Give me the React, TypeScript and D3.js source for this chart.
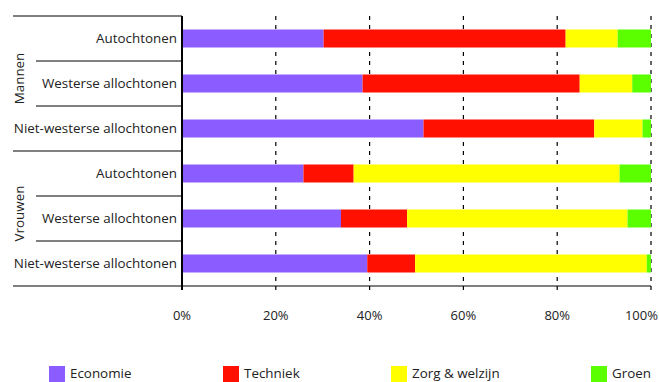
import React from "react";
import * as d3 from "d3";

const rowLabels = [
  "Autochtonen",
  "Westerse allochtonen",
  "Niet-westerse allochtonen",
  "Autochtonen",
  "Westerse allochtonen",
  "Niet-westerse allochtonen",
];
const groups = ["Mannen", "Vrouwen"];
const seriesNames = ["Economie", "Techniek", "Zorg & welzijn", "Groen"];
const economie = [30.2, 38.5, 51.5, 25.9, 33.9, 39.5];
const techniek = [51.6, 46.3, 36.4, 10.7, 14.1, 10.2];
const zorg = [11.1, 11.2, 10.3, 56.7, 47.0, 49.4];
const groen = [7.1, 4.0, 1.8, 6.7, 5.0, 0.9];
const ticks = [0, 20, 40, 60, 80, 100];
const colors = ["#8b5cff", "#ff1000", "#ffff00", "#5cff00"];

const W = 659;
const H = 382;
const x0 = 182;
const x1 = 651;
const top = 16;
const bottom = 286;
const FONT = "'Open Sans', sans-serif";

export default function App() {
  const x = d3.scaleLinear().domain([0, 100]).range([x0, x1]);
  const ids = rowLabels.map((_, i) => String(i));
  const y = d3.scaleBand().domain(ids).range([top, bottom]).paddingInner(0.6).paddingOuter(0.3);
  const band = d3.scaleBand().domain(ids).range([top, bottom]);
  const table = rowLabels.map((_, i) => ({
    id: String(i),
    Economie: economie[i],
    Techniek: techniek[i],
    "Zorg & welzijn": zorg[i],
    Groen: groen[i],
  }));
  const stack = d3.stack<any>().keys(seriesNames)(table);
  const legendX = [49, 223, 391, 591];

  return (
    <svg width={W} height={H} style={{ position: "absolute", left: 0, top: 0 }} fontFamily={FONT}>
      {ticks.slice(1).map((t) => (
        <line key={t} x1={x(t)} x2={x(t)} y1={top} y2={bottom + 4} stroke="#000" strokeWidth={1.2} strokeDasharray="4,5" />
      ))}
      {stack.map((s, si) =>
        s.map((d, i) => (
          <rect
            key={si + "-" + i}
            x={x(d[0])}
            width={x(d[1]) - x(d[0])}
            y={y(String(i))}
            height={y.bandwidth()}
            fill={colors[si]}
          />
        ))
      )}
      {ids.map((id, i) => {
        const yy = band(id)!;
        const full = i % 3 === 0;
        return <line key={"s" + i} x1={full ? 13 : 36} x2={x0} y1={yy} y2={yy} stroke="#000" strokeWidth={1} />;
      })}
      <line x1={13} x2={x1} y1={bottom} y2={bottom} stroke="#000" strokeWidth={1} />
      <line x1={x0} x2={x0} y1={top} y2={bottom + 4} stroke="#000" strokeWidth={2} />
      {rowLabels.map((l, i) => (
        <text key={"r" + i} x={177} y={band(String(i))! + band.bandwidth() / 2} dy="0.35em" textAnchor="end" fontSize={13.4} fill="#222">
          {l}
        </text>
      ))}
      {groups.map((g, gi) => {
        const cy = band(String(gi * 3))! + (band.bandwidth() * 3) / 2 - 5;
        return (
          <text key={g} transform={`translate(24,${cy}) rotate(-90)`} textAnchor="middle" fontSize={13.4} fill="#222">
            {g}
          </text>
        );
      })}
      {ticks.map((t) => (
        <text
          key={"t" + t}
          x={t === 100 ? 658 : x(t)}
          y={320}
          textAnchor={t === 100 ? "end" : "middle"}
          fontSize={13}
          fill="#222"
        >
          {t}%
        </text>
      ))}
      {seriesNames.map((n, i) => (
        <g key={n}>
          <rect x={legendX[i]} y={366} width={16} height={16} fill={colors[i]} />
          <text x={legendX[i] + 21} y={378} fontSize={13.4} fill="#222">
            {n}
          </text>
        </g>
      ))}
    </svg>
  );
}
